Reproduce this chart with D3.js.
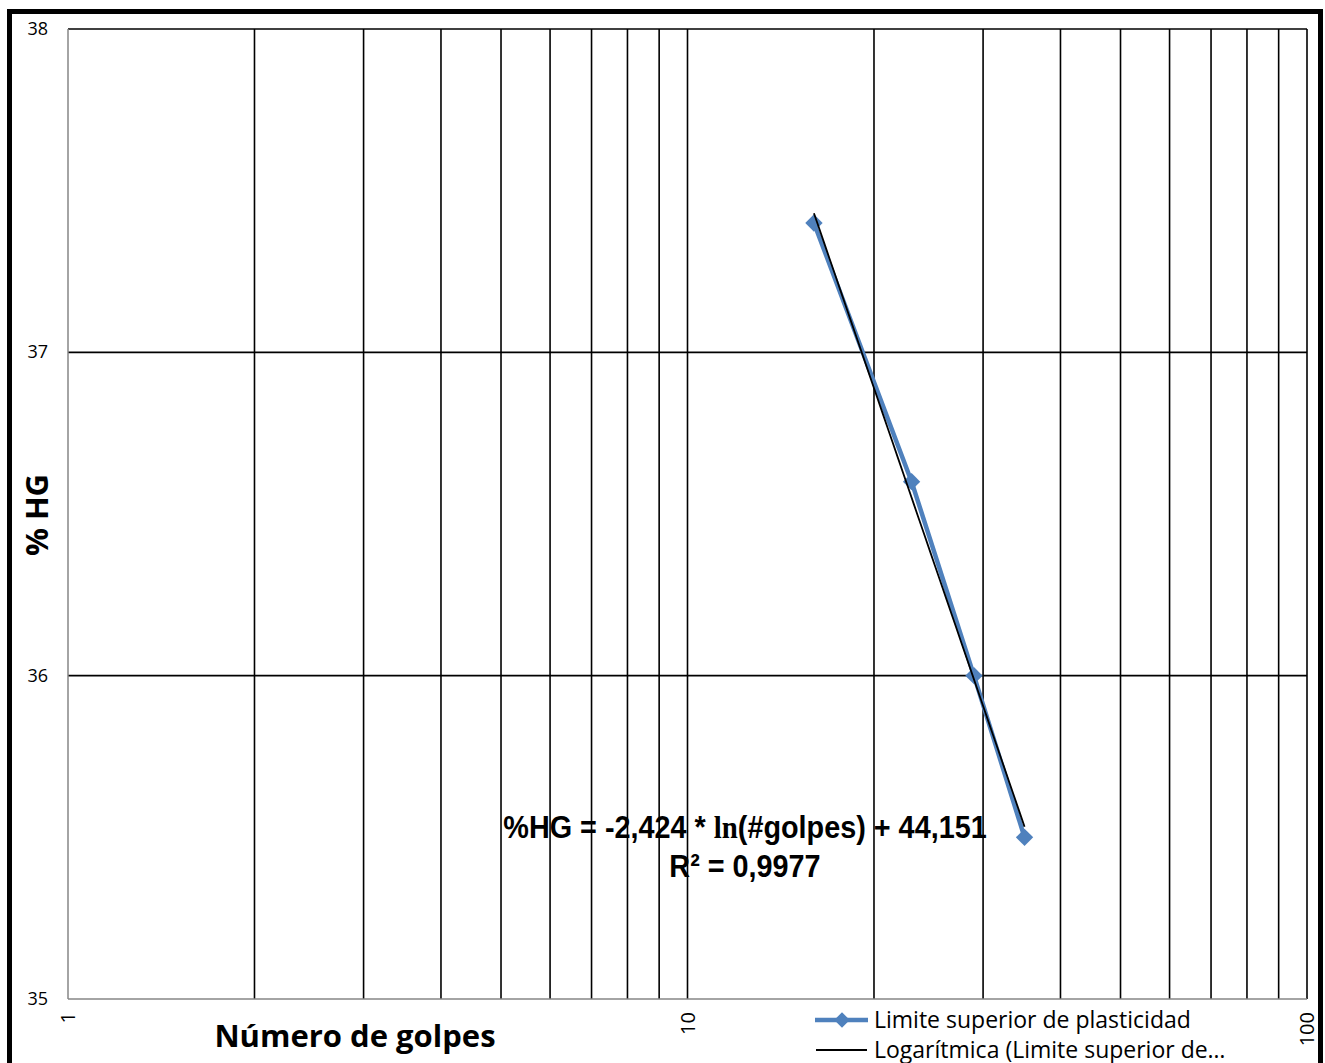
<!DOCTYPE html>
<html><head><meta charset="utf-8">
<script src="https://cdn.jsdelivr.net/npm/d3@7"></script>
<style>body{margin:0;background:#fff;} svg{display:block;}</style>
</head><body>
<svg id="c" width="1325" height="1063"></svg>
<script>
const golpes = [16, 23, 29, 35];
const humedad = [37.4, 36.6, 36.0, 35.5];
const trendA = -2.424, trendB = 44.151;
const trendRange = [16, 35];
const yTicks = [35, 36, 37, 38];
const xTickLabels = [1, 10, 100];
const seriesName = "Limite superior de plasticidad";
const trendName = "Logarítmica (Limite superior de…";
const eqText1 = "%HG = -2,424 * ";
const eqLn = "ln";
const eqText2 = "(#golpes) + 44,151";
const r2Text = "R² = 0,9977";

const svg = d3.select("#c");
const L = 68, R = 1307, T = 29, B = 999;
const x = d3.scaleLog().domain([1, 100]).range([L, R]);
const y = d3.scaleLinear().domain([35, 38]).range([B, T]);
const font = "'Open Sans', 'Noto Sans', sans-serif";

// outer border
svg.append("rect").attr("x", 9.5).attr("y", 11.5).attr("width", 1311).attr("height", 1070)
  .attr("fill", "none").attr("stroke", "#000").attr("stroke-width", 5);

// vertical gridlines
const gridX = [];
for (let d = 1; d <= 10; d *= 10) for (let k = 1; k <= 9; k++) gridX.push(d * k);
gridX.push(100);
svg.append("g").selectAll("line").data(gridX.filter(v => v > 1)).join("line")
  .attr("x1", d => x(d)).attr("x2", d => x(d)).attr("y1", T).attr("y2", B)
  .attr("stroke", "#000").attr("stroke-width", 1.6);
// horizontal gridlines
svg.append("g").selectAll("line").data(yTicks.filter(v => v > 35)).join("line")
  .attr("x1", L).attr("x2", R).attr("y1", d => y(d)).attr("y2", d => y(d))
  .attr("stroke", "#000").attr("stroke-width", 1.6);
// axes lines (gray)
svg.append("line").attr("x1", L).attr("x2", L).attr("y1", T).attr("y2", B).attr("stroke", "#868686").attr("stroke-width", 1.5);
svg.append("line").attr("x1", L).attr("x2", R).attr("y1", B).attr("y2", B).attr("stroke", "#868686").attr("stroke-width", 1.5);

// y tick labels
svg.append("g").selectAll("text").data(yTicks).join("text")
  .attr("x", 48).attr("y", d => y(d) + 6).attr("text-anchor", "end")
  .attr("font-family", font).attr("font-size", 18).text(d => d);
// x tick labels rotated
svg.append("g").selectAll("text").data(xTickLabels).join("text")
  .attr("transform", d => `translate(${x(d) + 7},${1012}) rotate(-90)`)
  .attr("text-anchor", "end").attr("font-family", font).attr("font-size", 20).text(d => d);

// axis titles
svg.append("text").attr("x", 355).attr("y", 1047).attr("text-anchor", "middle")
  .attr("font-family", font).attr("font-weight", "bold").attr("font-size", 31).text("Número de golpes");
svg.append("text").attr("transform", "translate(48,515) rotate(-90)").attr("text-anchor", "middle")
  .attr("font-family", font).attr("font-weight", "bold").attr("font-size", 31).text("% HG");

// series
const blue = "#4F81BD";
const pts = golpes.map((g, i) => [g, humedad[i]]);
svg.append("path").datum(pts)
  .attr("d", d3.line().x(d => x(d[0])).y(d => y(d[1])))
  .attr("fill", "none").attr("stroke", blue).attr("stroke-width", 4.5);
svg.append("g").selectAll("path").data(pts).join("path")
  .attr("d", d3.symbol().type(d3.symbolSquare).size(150))
  .attr("transform", d => `translate(${x(d[0])},${y(d[1])}) rotate(45)`)
  .attr("fill", blue);

// trendline
const trendPts = d3.range(0, 41).map(i => {
  const g = trendRange[0] * Math.pow(trendRange[1] / trendRange[0], i / 40);
  return [g, trendA * Math.log(g) + trendB];
});
svg.append("path").datum(trendPts).attr("d", d3.line().x(d => x(d[0])).y(d => y(d[1])))
  .attr("fill", "none").attr("stroke", "#000").attr("stroke-width", 1.8);

// equation
const eqFont = "'Liberation Sans', Arial, sans-serif";
const eqG = svg.append("g").attr("transform", "translate(745,0) scale(0.9,1)");
const eq = eqG.append("text").attr("x", 0).attr("y", 838).attr("text-anchor", "middle")
  .attr("font-family", eqFont).attr("font-weight", "bold").attr("font-size", 32);
eq.append("tspan").text(eqText1);
eq.append("tspan").attr("font-family", "'Liberation Serif', 'DejaVu Serif', serif").text(eqLn);
eq.append("tspan").text(eqText2);
eqG.append("text").attr("x", 0).attr("y", 877).attr("text-anchor", "middle")
  .attr("font-family", eqFont).attr("font-weight", "bold").attr("font-size", 32).text(r2Text);

// legend
svg.append("line").attr("x1", 815).attr("x2", 868).attr("y1", 1020).attr("y2", 1020)
  .attr("stroke", blue).attr("stroke-width", 4.5);
svg.append("path").attr("d", d3.symbol().type(d3.symbolSquare).size(120)).attr("transform", "translate(842,1020) rotate(45)").attr("fill", blue);
svg.append("text").attr("x", 874).attr("y", 1028).attr("font-family", font).attr("font-size", 23).text(seriesName);
svg.append("line").attr("x1", 816).attr("x2", 867).attr("y1", 1050).attr("y2", 1050)
  .attr("stroke", "#000").attr("stroke-width", 1.8);
svg.append("text").attr("x", 874).attr("y", 1058).attr("font-family", font).attr("font-size", 23).text(trendName);
</script>
</body></html>
